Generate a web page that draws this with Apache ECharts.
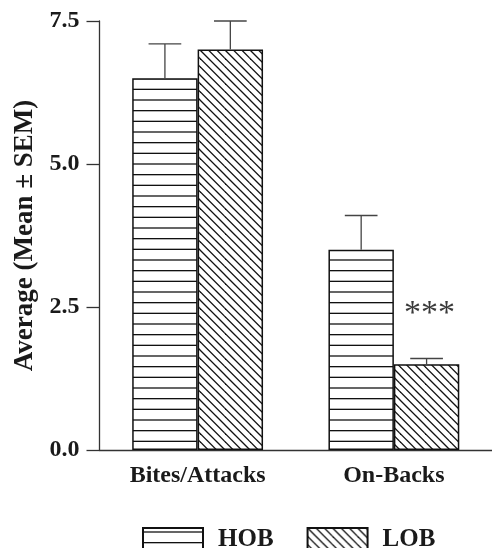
<!DOCTYPE html>
<html>
<head>
<meta charset="utf-8">
<script src="https://cdn.jsdelivr.net/npm/echarts@6/dist/echarts.min.js"></script>
<style>
html,body{margin:0;padding:0;background:#fff;}
#chart{width:492px;height:548px;}
</style>
</head>
<body>
<div id="chart"></div>
<script>
// ---- data ----
var categories = ['Bites/Attacks', 'On-Backs'];
var seriesNames = ['HOB', 'LOB'];
var hobMean = [6.5, 3.5];
var hobSem = [0.6, 0.6];
var lobMean = [7.0, 1.5];
var lobSem = [0.5, 0.1];
var lobSig = ['', '***'];
var yTicks = [0, 2.5, 5.0, 7.5];

// ---- patterns ----
function hPattern() {
  var c = document.createElement('canvas');
  c.width = 4; c.height = 32;
  var ctx = c.getContext('2d');
  ctx.fillStyle = '#fff'; ctx.fillRect(0, 0, 4, 32);
  ctx.strokeStyle = '#111'; ctx.lineWidth = 1.3;
  [4.0, 14.67, 25.33].forEach(function (y) {
    ctx.beginPath(); ctx.moveTo(0, y); ctx.lineTo(4, y); ctx.stroke();
  });
  return c;
}
function dPattern() {
  var s = 25;
  var c = document.createElement('canvas');
  c.width = s; c.height = s;
  var ctx = c.getContext('2d');
  ctx.fillStyle = '#fff'; ctx.fillRect(0, 0, s, s);
  ctx.strokeStyle = '#111'; ctx.lineWidth = 1.3;
  for (var k = -4; k <= 4; k++) {
    var o = k * s / 3;
    ctx.beginPath(); ctx.moveTo(o - 2, -2); ctx.lineTo(o + s + 2, s + 2); ctx.stroke();
  }
  return c;
}
var hFill = { image: hPattern(), repeat: 'repeat' };
var dFill = { image: dPattern(), repeat: 'repeat' };

var FONT = '"Liberation Serif", "Times New Roman", serif';
var BAR_RATIO = 1 / 3;

function errData(means, sems) {
  return means.map(function (m, i) { return [i, m, sems[i]]; });
}
function errSeries(name, means, sems, side, sig) {
  return {
    type: 'custom',
    name: name,
    silent: true,
    z: 5,
    data: errData(means, sems),
    encode: { x: 0, y: 1 },
    renderItem: function (params, api) {
      var idx = api.value(0);
      var m = api.value(1), s = api.value(2);
      var band = api.size([1, 0])[0];
      var bw = band * BAR_RATIO;
      var base = api.coord([idx, m]);
      var top = api.coord([idx, m + s]);
      var cx = base[0] + side * bw / 2;
      var half = bw / 4;
      var children = [
        { type: 'line', shape: { x1: cx, y1: base[1], x2: cx, y2: top[1] }, style: { stroke: '#444', lineWidth: 1.3 } },
        { type: 'line', shape: { x1: cx - half, y1: top[1], x2: cx + half, y2: top[1] }, style: { stroke: '#444', lineWidth: 1.3 } }
      ];
      if (sig && sig[idx]) {
        children.push({
          type: 'text',
          style: { x: cx + 3, y: top[1] - 44, text: sig[idx], fill: '#3a3a3a', font: '34px ' + FONT, align: 'center', verticalAlign: 'middle' }
        });
      }
      return { type: 'group', children: children };
    }
  };
}

var chart = echarts.init(document.getElementById('chart'), null, { renderer: 'canvas' });
chart.setOption({
  animation: false,
  backgroundColor: '#fff',
  grid: { left: 99.5, right: -6, top: 21, bottom: 98, containLabel: false },
  legend: {
    data: seriesNames,
    left: 142, top: 527,
    padding: 0,
    itemWidth: 60, itemHeight: 23,
    itemGap: 33,
    icon: 'rect',
    textStyle: { fontFamily: FONT, fontWeight: 'bold', fontSize: 25, color: '#1a1a1a', padding: [0, 0, 0, 10] }
  },
  xAxis: {
    type: 'category',
    data: categories,
    axisLine: { lineStyle: { color: '#333', width: 1.3 } },
    axisTick: { show: false },
    axisLabel: { fontFamily: FONT, fontWeight: 'bold', fontSize: 24, color: '#1a1a1a', margin: 14 }
  },
  yAxis: {
    type: 'value',
    min: yTicks[0], max: yTicks[yTicks.length - 1], interval: 2.5,
    name: 'Average (Mean ± SEM)',
    nameLocation: 'middle',
    nameGap: 56,
    nameTextStyle: { fontFamily: FONT, fontWeight: 'bold', fontSize: 27, color: '#1a1a1a' },
    axisLine: { show: true, lineStyle: { color: '#333', width: 1.3 } },
    axisTick: { show: true, length: 13, lineStyle: { color: '#333', width: 1.3 } },
    splitLine: { show: false },
    axisLabel: { fontFamily: FONT, fontWeight: 'bold', fontSize: 24, color: '#1a1a1a', margin: 20,
      formatter: function (v) { return v.toFixed(1); } }
  },
  series: [
    { type: 'bar', name: 'HOB', data: hobMean, barWidth: (BAR_RATIO * 100) + '%', barGap: '0%',
      itemStyle: { color: hFill, borderColor: '#111', borderWidth: 1.5 } },
    { type: 'bar', name: 'LOB', data: lobMean, barWidth: (BAR_RATIO * 100) + '%', barGap: '0%',
      itemStyle: { color: dFill, borderColor: '#111', borderWidth: 1.5 } },
    errSeries('HOB err', hobMean, hobSem, -1, null),
    errSeries('LOB err', lobMean, lobSem, 1, lobSig)
  ]
});
</script>
</body>
</html>
